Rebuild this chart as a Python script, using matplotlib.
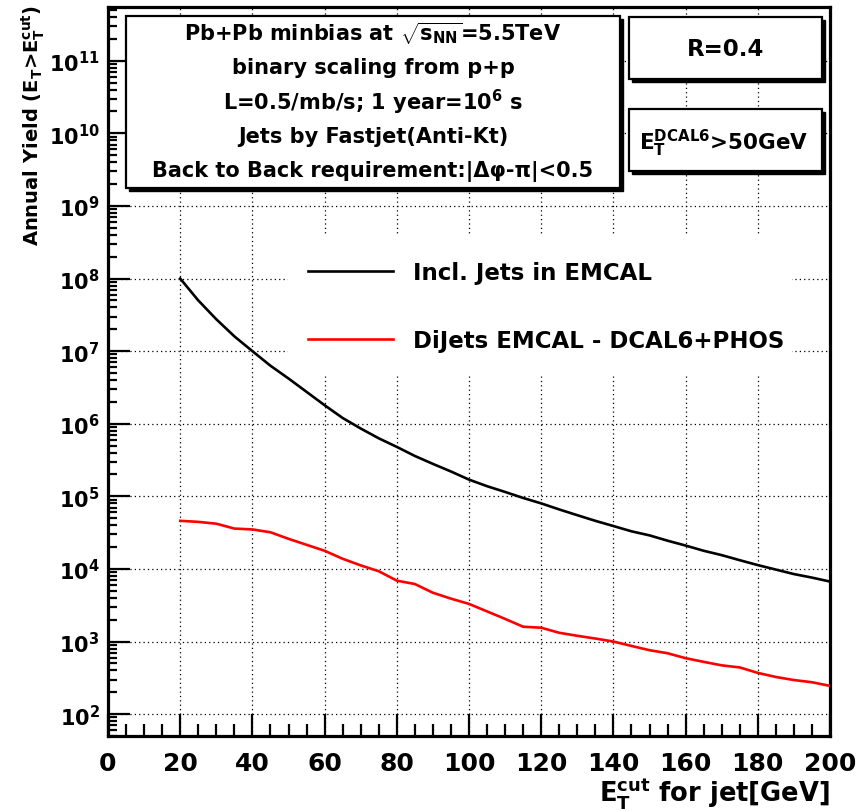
import numpy as np
import matplotlib
matplotlib.use("Agg")
import matplotlib.pyplot as plt
from matplotlib.patches import Rectangle
from matplotlib.ticker import FixedLocator, LogLocator, NullFormatter, LogFormatterMathtext

plt.rcParams['font.family'] = ['DejaVu Sans']
plt.rcParams['font.weight'] = 'bold'
plt.rcParams['axes.labelweight'] = 'bold'
plt.rcParams['mathtext.fontset'] = 'custom'
plt.rcParams['mathtext.rm'] = 'DejaVu Sans:bold'
plt.rcParams['mathtext.it'] = 'DejaVu Sans:bold'
plt.rcParams['mathtext.bf'] = 'DejaVu Sans:bold'
plt.rcParams['mathtext.sf'] = 'DejaVu Sans:bold'
plt.rcParams['mathtext.default'] = 'rm'

# ---- data -------------------------------------------------------------
et_cut = [20, 25, 30, 35, 40, 45, 50, 55, 60, 65, 70, 75, 80, 85, 90, 95, 100,
          105, 110, 115, 120, 125, 130, 135, 140, 145, 150, 155, 160, 165, 170,
          175, 180, 185, 190, 195, 200]

incl_jets_emcal = [1.0e8, 5.0e7, 2.75e7, 1.6e7, 1.0e7, 6.3e6, 4.2e6, 2.75e6, 1.8e6,
                   1.2e6, 8.6e5, 6.3e5, 4.8e5, 3.6e5, 2.8e5, 2.2e5, 1.7e5,
                   1.38e5, 1.15e5, 9.5e4, 8.0e4, 6.6e4, 5.5e4, 4.6e4, 3.9e4,
                   3.3e4, 2.9e4, 2.45e4, 2.1e4, 1.78e4, 1.55e4, 1.32e4, 1.13e4,
                   9.8e3, 8.5e3, 7.6e3, 6.7e3]

dijets_emcal_dcal = [4.6e4, 4.45e4, 4.2e4, 3.6e4, 3.5e4, 3.2e4, 2.6e4, 2.15e4, 1.78e4,
                     1.38e4, 1.12e4, 9.3e3, 6.9e3, 6.2e3, 4.7e3, 3.9e3, 3.3e3,
                     2.6e3, 2.05e3, 1.6e3, 1.55e3, 1.32e3, 1.2e3, 1.1e3, 1.0e3,
                     870, 760, 690, 590, 525, 470, 440, 370, 325, 295, 275, 245]

series_labels = ["Incl. Jets in EMCAL", "DiJets EMCAL - DCAL6+PHOS"]
x_ticks = [0, 20, 40, 60, 80, 100, 120, 140, 160, 180, 200]
y_tick_values = [1e2, 1e3, 1e4, 1e5, 1e6, 1e7, 1e8, 1e9, 1e10, 1e11]

info_lines = [r"Pb+Pb minbias at $\sqrt{s_{NN}}$=5.5TeV",
              "binary scaling from p+p",
              r"L=0.5/mb/s; 1 year=10$^{6}$ s",
              "Jets by Fastjet(Anti-Kt)",
              "Back to Back requirement:|\u0394\u03c6-\u03c0|<0.5"]
radius_label = "R=0.4"
dcal_cut_label = r"E$_{T}^{DCAL6}$>50GeV"

# ---- figure -----------------------------------------------------------
W, H = 868, 812
fig = plt.figure(figsize=(W / 100, H / 100), dpi=100)


def fx(x):
    return x / W


def fy(y):
    return 1 - y / H


ax_l, ax_r, ax_t, ax_b = 108, 830, 8, 737
ax = fig.add_axes([fx(ax_l), fy(ax_b), (ax_r - ax_l) / W, (ax_b - ax_t) / H])

l1, = ax.plot(et_cut, incl_jets_emcal, color='black', lw=1.9, zorder=3)
l2, = ax.plot(et_cut, dijets_emcal_dcal, color='#ff0000', lw=1.9, zorder=3)

ax.set_yscale('log')
ax.set_xlim(0, 200)
ax.set_ylim(50, 5.5e11)

ax.xaxis.set_major_locator(FixedLocator(x_ticks))
ax.xaxis.set_minor_locator(FixedLocator(np.arange(0, 201, 5)))
ax.yaxis.set_major_locator(FixedLocator(y_tick_values))
ax.yaxis.set_minor_locator(LogLocator(base=10, subs=np.arange(2, 10), numticks=100))
ax.yaxis.set_major_formatter(LogFormatterMathtext())
ax.yaxis.set_minor_formatter(NullFormatter())

ax.tick_params(axis='both', which='both', direction='in', top=False, right=False,
               width=1.6, colors='black')
ax.tick_params(axis='both', which='major', length=16)
ax.tick_params(axis='x', which='major', labelsize=18, pad=11)
ax.tick_params(axis='y', which='major', labelsize=15, pad=6)
ax.tick_params(axis='y', which='minor', length=6.5)
ax.tick_params(axis='x', which='minor', length=8.5)

for s in ax.spines.values():
    s.set_linewidth(2.3)

ax.grid(which='major', color='black', linestyle=(0, (1, 2.5)), lw=0.9)
ax.set_axisbelow(True)

ax.set_ylabel(r"Annual Yield (E$_{T}$>E$_{T}^{cut}$)", loc='top', fontsize=14)
ax.yaxis.set_label_coords(-0.084, 1.004)
ax.set_xlabel(r"E$_{T}^{cut}$ for jet[GeV]", loc='right', fontsize=18.5)
ax.xaxis.set_label_coords(1.0, -0.055)


# ---- text panels with drop shadow -------------------------------------
def panel(x0, y0, x1, y1, shadow=3):
    fig.add_artist(Rectangle((fx(x0 + shadow), fy(y1 + shadow)), (x1 - x0) / W,
                             (y1 - y0) / H, transform=fig.transFigure,
                             facecolor='black', edgecolor='black', zorder=4))
    fig.add_artist(Rectangle((fx(x0), fy(y1)), (x1 - x0) / W, (y1 - y0) / H,
                             transform=fig.transFigure, facecolor='white',
                             edgecolor='black', lw=1.6, zorder=5))


panel(126, 17, 620, 189)
for txt, yy in zip(info_lines, [34, 68, 102, 137, 172]):
    fig.text(fx(373), fy(yy), txt, ha='center', va='center', fontsize=15,
             zorder=6)

panel(629, 18, 822, 80)
fig.text(fx(726), fy(50), radius_label, ha='center', va='center', fontsize=16.5,
         zorder=6)

panel(629, 110, 822, 172)
fig.text(fx(724), fy(143), dcal_cut_label, ha='center', va='center', fontsize=15.5,
         zorder=6)

# legend area (white background, no border)
fig.add_artist(Rectangle((fx(288), fy(375)), (792 - 288) / W, (375 - 235) / H,
                         transform=fig.transFigure, facecolor='white',
                         edgecolor='none', zorder=4))
leg = fig.legend([l1, l2], series_labels, loc='upper left',
                 bbox_to_anchor=(fx(308), fy(262)), bbox_transform=fig.transFigure,
                 frameon=False, fontsize=16.5, handlelength=3.71, handletextpad=0.87,
                 labelspacing=1.97, borderpad=0, borderaxespad=0)
leg.set_zorder(6)

fig.savefig("out.png", dpi=100)
